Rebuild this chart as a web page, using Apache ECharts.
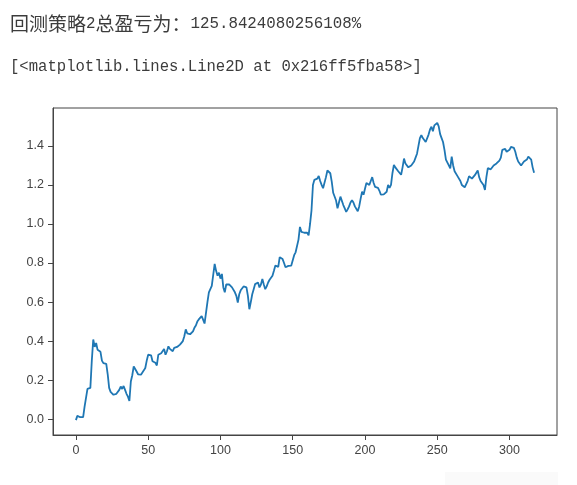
<!DOCTYPE html>
<html>
<head>
<meta charset="utf-8">
<script src="https://cdn.jsdelivr.net/npm/echarts@6/dist/echarts.min.js"></script>
<style>
html,body{margin:0;padding:0;background:#fff;}
#c{width:577px;height:485px;}
</style>
</head>
<body>
<div id="c"></div>
<script>
// Cumulative return series (index 0..317)
const values = [
-0.005,0.017,0.012,0.01,0.012,0.01,0.064,0.07,0.155,0.15,
0.16,0.30,0.408,0.37,0.39,0.355,0.35,0.345,0.30,0.287,
0.285,0.283,0.23,0.16,0.14,0.135,0.125,0.124,0.13,0.14,
0.15,0.167,0.155,0.17,0.15,0.13,0.115,0.093,0.193,0.225,
0.27,0.268,0.244,0.23,0.227,0.228,0.236,0.25,0.262,0.30,
0.33,0.335,0.327,0.297,0.29,0.289,0.275,0.33,0.32,0.338,
0.34,0.36,0.33,0.348,0.373,0.36,0.355,0.348,0.365,0.36,
0.37,0.365,0.382,0.39,0.40,0.425,0.46,0.44,0.43,0.435,
0.43,0.45,0.468,0.48,0.50,0.511,0.52,0.528,0.51,0.49,
0.489,0.60,0.65,0.66,0.683,0.69,0.795,0.76,0.735,0.75,
0.72,0.744,0.675,0.65,0.69,0.685,0.69,0.68,0.675,0.666,
0.65,0.632,0.597,0.64,0.66,0.666,0.68,0.69,0.675,0.632,
0.563,0.60,0.64,0.666,0.692,0.695,0.70,0.675,0.69,0.718,
0.69,0.666,0.68,0.70,0.714,0.72,0.735,0.76,0.787,0.795,
0.78,0.83,0.825,0.82,0.80,0.778,0.77,0.785,0.787,0.787,
0.79,0.84,0.855,0.865,0.92,0.985,0.96,0.97,0.955,0.965,
0.955,0.942,1.00,1.07,1.20,1.226,1.23,1.232,1.246,1.22,
1.20,1.183,1.19,1.24,1.274,1.275,1.26,1.217,1.16,1.157,
1.12,1.08,1.11,1.14,1.13,1.097,1.08,1.062,1.075,1.09,
1.11,1.122,1.11,1.09,1.08,1.065,1.09,1.13,1.165,1.15,
1.18,1.21,1.217,1.20,1.22,1.24,1.21,1.19,1.195,1.185,
1.17,1.15,1.15,1.152,1.16,1.165,1.20,1.185,1.2,1.26,
1.303,1.29,1.285,1.27,1.262,1.252,1.29,1.335,1.31,1.30,
1.29,1.295,1.30,1.31,1.32,1.34,1.36,1.40,1.44,1.455,
1.44,1.43,1.42,1.418,1.458,1.484,1.498,1.475,1.505,1.495,
1.518,1.50,1.46,1.44,1.42,1.38,1.33,1.32,1.30,1.285,
1.345,1.30,1.27,1.26,1.245,1.235,1.22,1.20,1.192,1.188,
1.19,1.22,1.245,1.235,1.232,1.235,1.25,1.26,1.274,1.24,
1.22,1.228,1.2,1.174,1.24,1.286,1.28,1.28,1.29,1.30,
1.30,1.31,1.30,1.325,1.34,1.38,1.39,1.385,1.37,1.365,
1.38,1.395,1.385,1.39,1.37,1.34,1.32,1.31,1.30,1.30,
1.32,1.33,1.33,1.345,1.35,1.33,1.29,1.262
];
const xTicks = [0, 50, 100, 150, 200, 250, 300];
const yTicks = [0.0, 0.2, 0.4, 0.6, 0.8, 1.0, 1.2, 1.4];
const headerCJK1 = '回测策略';
const headerNum1 = '2';
const headerCJK2 = '总盈亏为：';
const headerNum2 = '125.8424080256108%';
const reprLine = '[<matplotlib.lines.Line2D at 0x216ff5fba58>]';

const points = values.map((v, i) => [i, v]);
const n = values.length - 1;
const xMin = -0.05 * n, xMax = n + 0.05 * n;
const vMin = Math.min(...values), vMax = Math.max(...values);
const span = vMax - vMin;
const yMin = vMin - 0.05 * span, yMax = vMax + 0.05 * span;

const axisColor = '#444';
const labelFont = { color: '#444', fontFamily: 'Liberation Sans', fontSize: 12.5 };

const chart = echarts.init(document.getElementById('c'), null, { renderer: 'canvas' });
chart.setOption({
  backgroundColor: '#fff',
  animation: false,
  grid: { left: 53, top: 108, width: 504, height: 327, show: true, borderColor: axisColor, borderWidth: 1, backgroundColor: 'transparent' },
  xAxis: {
    type: 'value', min: xMin, max: xMax, position: 'bottom',
    axisLine: { show: true, onZero: false, lineStyle: { color: axisColor, width: 1 } },
    axisTick: { show: true, inside: false, length: 5, lineStyle: { color: axisColor }, customValues: xTicks },
    axisLabel: { ...labelFont, margin: 9, customValues: xTicks, formatter: v => String(v) },
    splitLine: { show: false }
  },
  yAxis: {
    type: 'value', min: yMin, max: yMax, position: 'left',
    axisLine: { show: true, onZero: false, lineStyle: { color: axisColor, width: 1 } },
    axisTick: { show: true, inside: false, length: 5, lineStyle: { color: axisColor }, customValues: yTicks },
    axisLabel: { ...labelFont, margin: 9, customValues: yTicks, formatter: v => v.toFixed(1) },
    splitLine: { show: false }
  },
  series: [{
    type: 'line', data: points, showSymbol: false, symbol: 'none',
    lineStyle: { color: '#1f77b4', width: 1.8 },
    clip: true
  }],
  graphic: [
    {
      type: 'text', left: 10, top: 14,
      style: {
        text: '{c|' + headerCJK1 + '}{l|' + headerNum1 + '}{c|' + headerCJK2 + '}{l|' + headerNum2 + '}',
        rich: {
          c: { fontFamily: 'Noto Sans CJK SC', fontSize: 19, fill: '#3c3c3c', lineHeight: 20 },
          l: { fontFamily: 'Liberation Mono', fontSize: 15.8, fill: '#3c3c3c', lineHeight: 20 }
        }
      }
    },
    {
      type: 'text', left: 10, top: 59,
      style: { text: reprLine, fontFamily: 'Liberation Mono', fontSize: 15.6, fill: '#3c3c3c' }
    },
    {
      type: 'rect', shape: { x: 445, y: 472, width: 113, height: 13 },
      style: { fill: '#fafafa' }, z: -1
    }
  ]
});
</script>
</body>
</html>
